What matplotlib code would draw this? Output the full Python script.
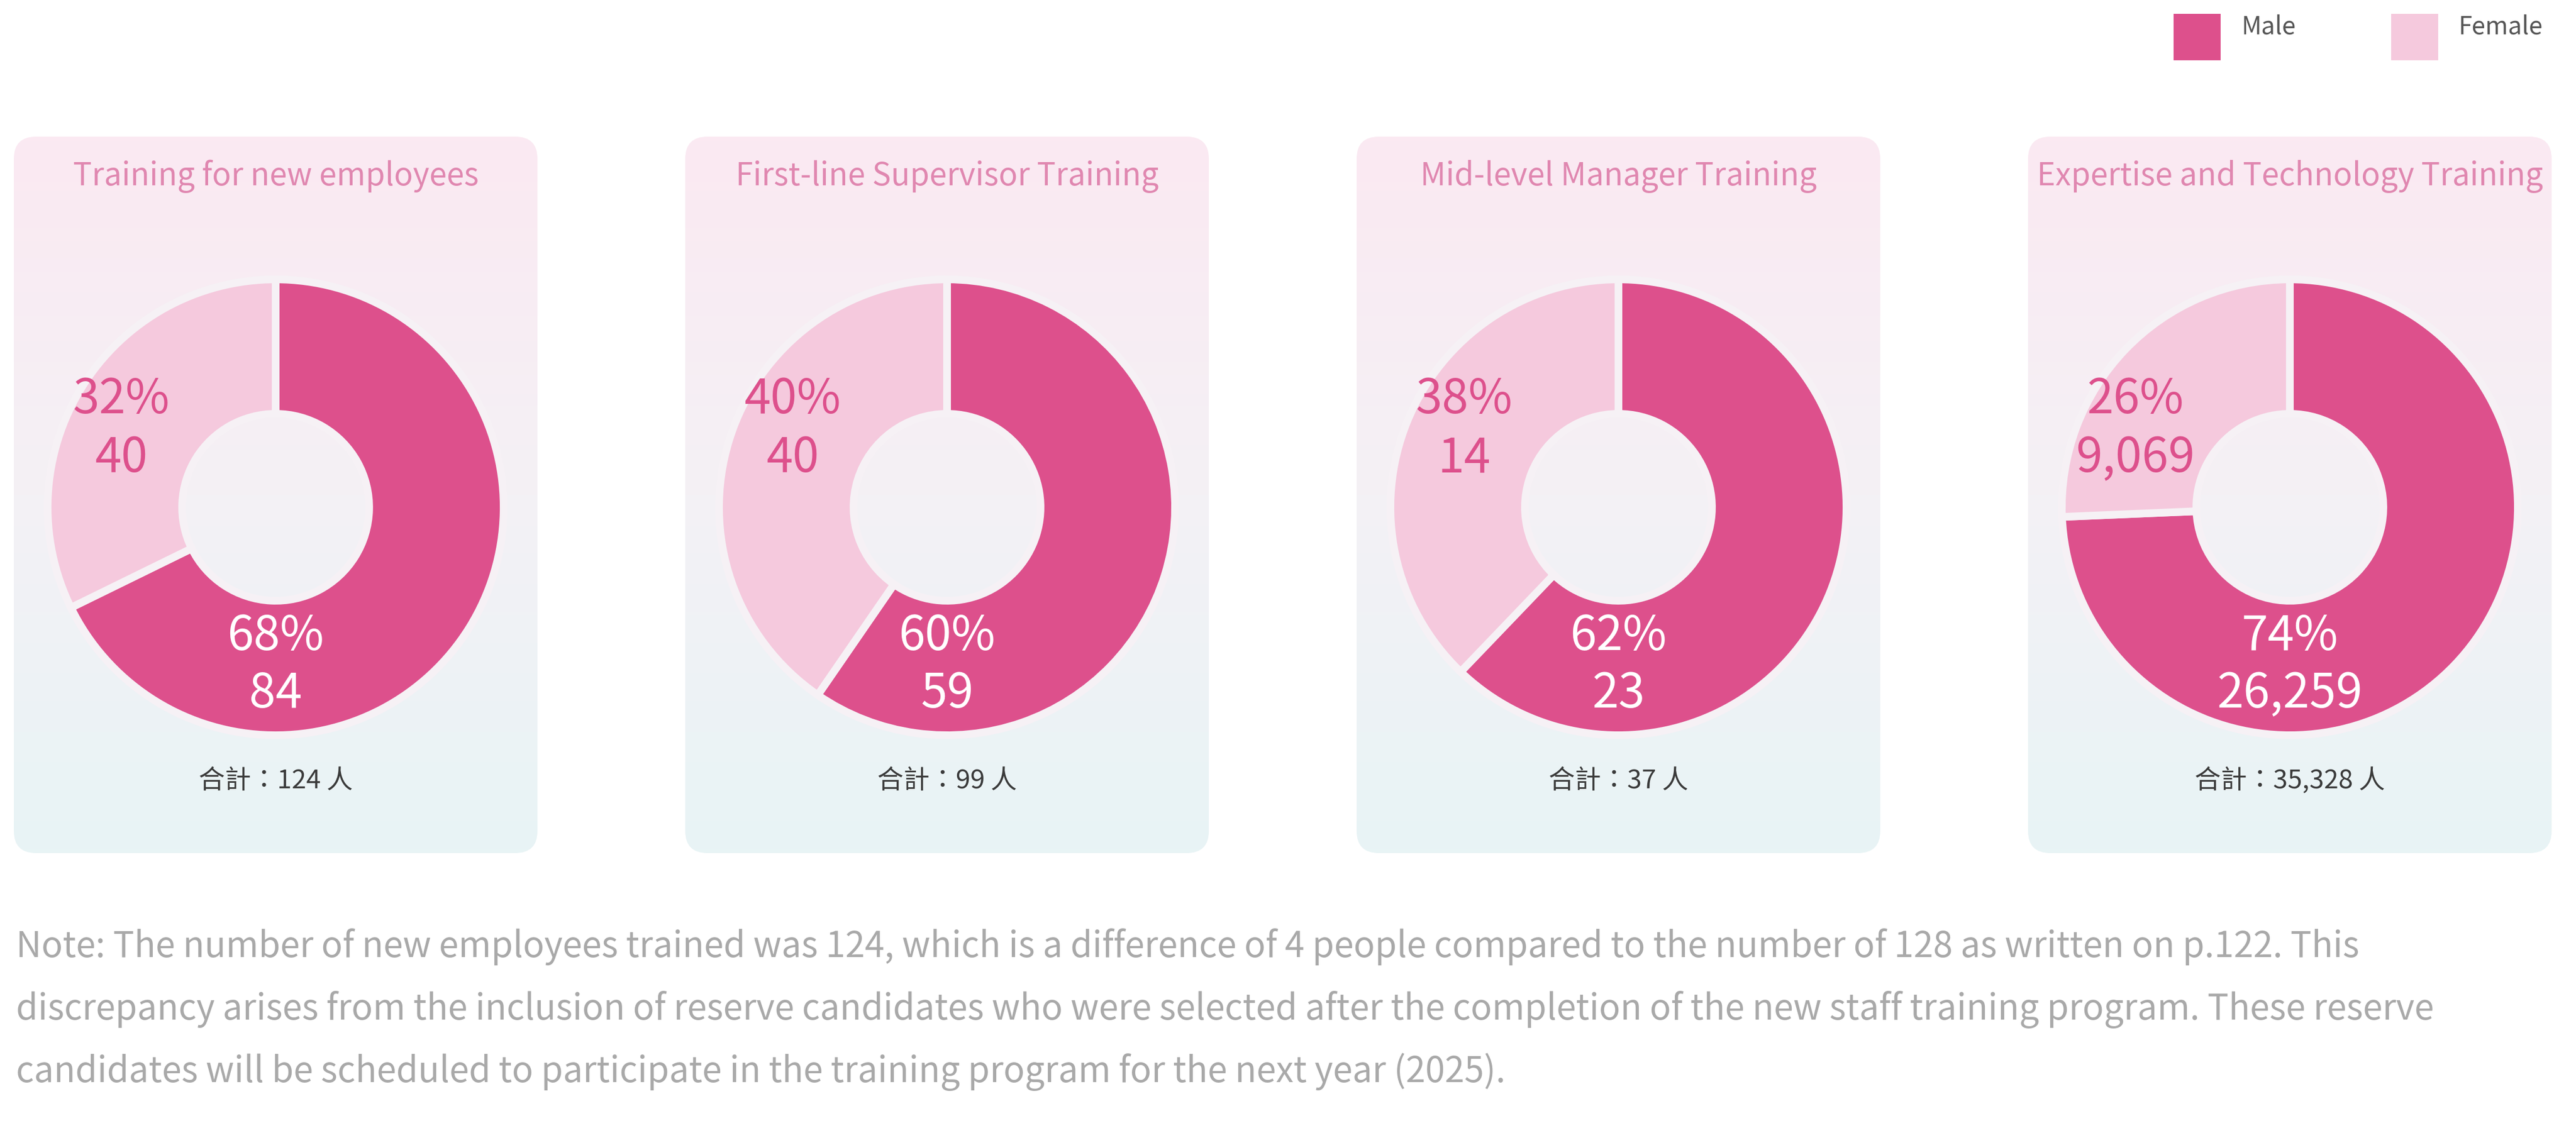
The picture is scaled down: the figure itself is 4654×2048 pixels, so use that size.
import numpy as np
import matplotlib
matplotlib.use("Agg")
import matplotlib.pyplot as plt
from matplotlib.patches import FancyBboxPatch, Rectangle
from matplotlib.colors import LinearSegmentedColormap

plt.rcParams["font.family"] = ["Noto Sans CJK TC", "DejaVu Sans"]

# ---- data ----
titles = [
    "Training for new employees",
    "First-line Supervisor Training",
    "Mid-level Manager Training",
    "Expertise and Technology Training",
]
male = [84, 59, 23, 26259]
female = [40, 40, 14, 9069]
legend_labels = ["Male", "Female"]
note_lines = [
    "Note: The number of new employees trained was 124, which is a difference of 4 people compared to the number of 128 as written on p.122. This",
    "discrepancy arises from the inclusion of reserve candidates who were selected after the completion of the new staff training program. These reserve",
    "candidates will be scheduled to participate in the training program for the next year (2025).",
]

MALE_C = "#dd508c"
FEMALE_C = "#f5c9dd"
TITLE_C = "#e087b0"
GAP_C = "#f6f1f5"

W, H = 4654, 2048
DPI = 100
fig = plt.figure(figsize=(W / DPI, H / DPI), dpi=DPI)
fig.patch.set_facecolor("white")

bg = fig.add_axes([0, 0, 1, 1])
bg.set_xlim(0, W)
bg.set_ylim(H, 0)
bg.axis("off")

grad = LinearSegmentedColormap.from_list("panel", ["#fbe9f2", "#f4f1f5", "#e8f4f5"])

panel_left0, panel_pitch, panel_w = 25, 1213, 946
panel_top, panel_h = 247, 1295
cy = 917
R_AX = 412  # donut axes half-size in px

for i, title in enumerate(titles):
    px = panel_left0 + i * panel_pitch
    cx = px + panel_w / 2
    box = FancyBboxPatch((px, panel_top), panel_w, panel_h,
                         boxstyle="round,pad=0,rounding_size=40",
                         facecolor="none", edgecolor="none")
    bg.add_patch(box)
    im = bg.imshow(np.linspace(0, 1, 256).reshape(-1, 1), cmap=grad, aspect="auto",
                   extent=(px, px + panel_w, panel_top + panel_h, panel_top),
                   interpolation="bicubic", zorder=0)
    im.set_clip_path(box)

    bg.text(cx, 319, title, color=TITLE_C, fontsize=40.8, ha="center", va="center")

    total = male[i] + female[i]
    bg.text(cx, 1412, f"合計：{total:,} 人", color="#3a3a3a", fontsize=34,
            ha="center", va="center")

    ax = fig.add_axes([(cx - R_AX) / W, 1 - (cy + R_AX) / H, 2 * R_AX / W, 2 * R_AX / H])
    ax.pie([male[i], female[i]], colors=[MALE_C, FEMALE_C], startangle=90,
           counterclock=False, radius=1,
           wedgeprops=dict(width=0.59, edgecolor=GAP_C, linewidth=10))
    ax.set_xlim(-1, 1)
    ax.set_ylim(-1, 1)
    ax.set_aspect("equal")
    ax.axis("off")

    m_pct = round(100 * male[i] / total)
    f_pct = round(100 * female[i] / total)
    ax.text(cx - 279, cy - 194, f"{f_pct}%", transform=bg.transData, color=MALE_C,
            fontsize=62, ha="center", va="center")
    ax.text(cx - 279, cy - 88, f"{female[i]:,}", transform=bg.transData, color=MALE_C,
            fontsize=62, ha="center", va="center")
    ax.text(cx, cy + 234, f"{m_pct}%", transform=bg.transData, color="white",
            fontsize=62, ha="center", va="center")
    ax.text(cx, cy + 338, f"{male[i]:,}", transform=bg.transData, color="white",
            fontsize=62, ha="center", va="center")

# legend
for lx, lab, col in [(3927, legend_labels[0], MALE_C), (4320, legend_labels[1], FEMALE_C)]:
    bg.add_patch(Rectangle((lx, 25), 85, 84, facecolor=col, edgecolor="none"))
    bg.text(lx + 122, 48, lab, color="#555555", fontsize=32, ha="left", va="center")

# note
for k, line in enumerate(note_lines):
    bg.text(29, 1730 + k * 113, line, color="#a9a9a9", fontsize=45.8,
            ha="left", va="baseline")

fig.savefig("out.png", dpi=DPI, facecolor="white")
